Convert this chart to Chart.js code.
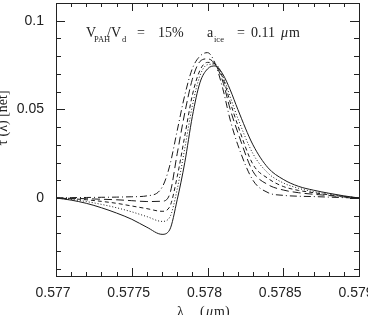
<!DOCTYPE html>
<html>
<head>
<meta charset="utf-8">
<script src="https://cdn.jsdelivr.net/npm/chart.js@4"></script>
<style>
  html, body { margin: 0; padding: 0; background: #fff; }
  #wrap { width: 368px; height: 315px; }
</style>
</head>
<body>
<div id="wrap"><canvas id="tauChart" width="368" height="315"></canvas></div>
<script>
// wavelength grid (micron)
const lambda = [0.5770, 0.5771, 0.5772, 0.5773, 0.5774, 0.5775, 0.5776, 0.5777, 0.57775, 0.5778,
    0.57785, 0.5779, 0.57795, 0.5780, 0.57805, 0.5781, 0.57815, 0.5782, 0.5783, 0.5784,
    0.5785, 0.5786, 0.5787, 0.5788, 0.5789, 0.5790];

// net optical depth, one curve per line style
const tauSolid = [0, -0.0012, -0.003, -0.0055, -0.0085, -0.012, -0.0165, -0.0205, -0.018, -0.001,
    0.020, 0.046, 0.065, 0.0728, 0.0745, 0.070, 0.061, 0.050, 0.030, 0.017,
    0.0105, 0.0066, 0.0044, 0.0027, 0.0012, 0];
const tauDotted = [0, -0.0008, -0.002, -0.0036, -0.0055, -0.0078, -0.0105, -0.0132, -0.011, 0.005,
    0.028, 0.052, 0.069, 0.0752, 0.0755, 0.069, 0.057, 0.045, 0.025, 0.014,
    0.0085, 0.0055, 0.0036, 0.0022, 0.001, 0];
const tauDashed = [0, -0.0004, -0.001, -0.0019, -0.003, -0.0045, -0.006, -0.0075, -0.005, 0.012,
    0.035, 0.058, 0.072, 0.0765, 0.0755, 0.068, 0.054, 0.041, 0.019, 0.011,
    0.0065, 0.0043, 0.003, 0.0018, 0.0008, 0];
const tauLongDash = [0, -0.0002, -0.0004, -0.0007, -0.001, -0.0015, -0.002, -0.0018, 0.002, 0.025,
    0.048, 0.067, 0.077, 0.0785, 0.0755, 0.066, 0.050, 0.037, 0.015, 0.0075,
    0.0045, 0.003, 0.0021, 0.0014, 0.0006, 0];
const tauDashDot = [0, 0.0002, 0.0003, 0.0004, 0.0005, 0.0007, 0.0012, 0.006, 0.018, 0.038,
    0.058, 0.073, 0.080, 0.082, 0.076, 0.062, 0.044, 0.030, 0.010, 0.003,
    0.0015, 0.001, 0.0008, 0.0005, 0.0002, 0];

// ticks
const xTicks = [0.577, 0.5775, 0.578, 0.5785, 0.579];
const yTicks = [0, 0.05, 0.1];
const xMinorStep = 0.0001;
const yMinorStep = 0.01;

const lineColor = '#1a1a1a';

function pts(ys) {
    return lambda.map((x, i) => ({ x: x, y: ys[i] }));
}
function series(ys, dash) {
    return {
        data: pts(ys),
        borderColor: lineColor,
        borderWidth: 1,
        borderDash: dash,
        pointRadius: 0,
        fill: false,
        cubicInterpolationMode: 'monotone'
    };
}
function fmt(v) {
    return String(Number(v.toFixed(5)));
}

// frame, inward ticks on all sides, tick labels, titles and the label inside the plot
const framePlugin = {
    id: 'frame',
    afterDraw(chart) {
        const ctx = chart.ctx;
        const a = chart.chartArea;
        const xs = chart.scales.x, ys = chart.scales.y;
        ctx.save();
        ctx.strokeStyle = '#222';
        ctx.lineWidth = 1;
        ctx.strokeRect(Math.round(a.left) + 0.5, Math.round(a.top) + 0.5,
            Math.round(a.right - a.left), Math.round(a.bottom - a.top));

        ctx.beginPath();
        // x ticks
        for (let k = 0; k <= 20; k++) {
            const v = xs.min + k * xMinorStep;
            const px = Math.round(xs.getPixelForValue(v)) + 0.5;
            const len = (k % 5 === 0) ? 8 : 4;
            ctx.moveTo(px, a.bottom); ctx.lineTo(px, a.bottom - len);
            ctx.moveTo(px, a.top); ctx.lineTo(px, a.top + len);
        }
        // y ticks
        const kStart = Math.ceil(ys.min / yMinorStep - 1e-9);
        const kEnd = Math.floor(ys.max / yMinorStep + 1e-9);
        for (let k = kStart; k <= kEnd; k++) {
            const v = k * yMinorStep;
            const py = Math.round(ys.getPixelForValue(v)) + 0.5;
            const len = (k % 5 === 0) ? 9 : 5;
            ctx.moveTo(a.left, py); ctx.lineTo(a.left + len, py);
            ctx.moveTo(a.right, py); ctx.lineTo(a.right - len, py);
        }
        ctx.stroke();

        // tick labels
        ctx.fillStyle = '#222';
        ctx.font = '14px "Liberation Sans"';
        ctx.textAlign = 'center';
        ctx.textBaseline = 'middle';
        xTicks.forEach(v => ctx.fillText(fmt(v), xs.getPixelForValue(v) - 3, a.bottom + 17));
        ctx.textAlign = 'right';
        yTicks.forEach(v => ctx.fillText(fmt(v), a.left - 12, ys.getPixelForValue(v)));

        // annotation
        ctx.textAlign = 'left';
        ctx.textBaseline = 'alphabetic';
        const big = '14px "Liberation Serif"';
        const sub = '8.5px "Liberation Serif"';
        const pieces = [
            ['V', 86, 37, big], ['PAH', 94, 42, sub], ['/V', 107, 37, big], ['d', 122, 42, sub],
            ['=', 137, 37, big], ['15%', 158, 37, big],
            ['a', 207, 37, big], ['ice', 214, 42, sub], ['=', 237, 37, big], ['0.11', 251, 37, big]
        ];
        pieces.forEach(p => { ctx.font = p[3]; ctx.fillText(p[0], p[1], p[2]); });
        ctx.font = 'italic 14px "Liberation Serif"';
        ctx.fillText('\u03bc', 281, 37);
        ctx.font = big;
        ctx.fillText('m', 289, 37);

        // axis titles
        ctx.font = '14px "Liberation Serif"';
        ctx.textBaseline = 'top';
        ctx.fillText('\u03bb', 177, 305);
        ctx.fillText('(', 200, 305);
        ctx.font = 'italic 14px "Liberation Serif"';
        ctx.fillText('\u03bc', 206, 305);
        ctx.font = '14px "Liberation Serif"';
        ctx.fillText('m)', 214, 305);
        ctx.save();
        ctx.translate(7, 118);
        ctx.rotate(-Math.PI / 2);
        ctx.textAlign = 'center';
        ctx.textBaseline = 'alphabetic';
        ctx.fillText('\u03c4 (\u03bb) [net]', 0, 0);
        ctx.restore();
        ctx.restore();
    }
};

const ctx = document.getElementById('tauChart').getContext('2d');
const tauChart = new Chart(ctx, {
    type: 'line',
    data: {
        datasets: [
            series(tauSolid, []),
            series(tauDotted, [1, 2]),
            series(tauDashed, [4, 3]),
            series(tauLongDash, [8, 4]),
            series(tauDashDot, [7, 3, 1, 3])
        ]
    },
    options: {
        responsive: false,
        animation: false,
        layout: { padding: { top: 3, right: 9, left: 0, bottom: 0 }, autoPadding: false },
        plugins: { legend: { display: false }, tooltip: { enabled: false } },
        scales: {
            x: {
                type: 'linear',
                min: 0.577,
                max: 0.579,
                afterFit(scale) { scale.height = 39; },
                grid: { display: false, drawTicks: false },
                border: { display: false },
                ticks: { display: false }
            },
            y: {
                type: 'linear',
                min: -0.044,
                max: 0.11,
                afterFit(scale) { scale.width = 56; },
                grid: { display: false, drawTicks: false },
                border: { display: false },
                ticks: { display: false }
            }
        }
    },
    plugins: [framePlugin]
});
</script>
</body>
</html>
